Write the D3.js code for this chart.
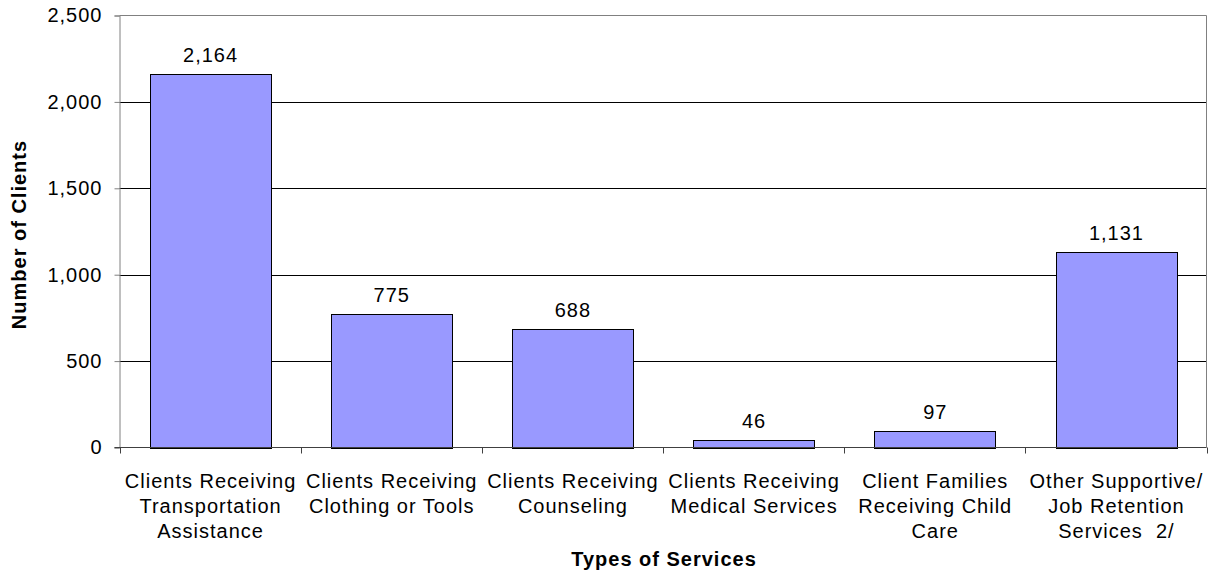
<!DOCTYPE html>
<html>
<head>
<meta charset="utf-8">
<script src="https://cdn.jsdelivr.net/npm/d3@7"></script>
<style>
  html, body { margin: 0; padding: 0; background: #fff; }
  svg { display: block; font-family: "Liberation Sans", Arial, sans-serif; }
  svg text { letter-spacing: 1px; }
</style>
</head>
<body>
<svg id="chart" width="1210" height="571"></svg>
<script>
// Service categories (each label line is a separate entry)
const categories = [
  ["Clients Receiving", "Transportation", "Assistance"],
  ["Clients Receiving", "Clothing or Tools"],
  ["Clients Receiving", "Counseling"],
  ["Clients Receiving", "Medical Services"],
  ["Client Families", "Receiving Child", "Care"],
  ["Other Supportive/", "Job Retention", "Services  2/"]
];
const clients = [2164, 775, 688, 46, 97, 1131];
const yTicks = [0, 500, 1000, 1500, 2000, 2500];

const svg = d3.select("#chart");
const plotLeft = 119.5, plotRight = 1206.5, plotTop = 15.5, plotBottom = 447.5;
const fmt = d3.format(",");

const x = d3.scaleBand()
  .domain(d3.range(categories.length))
  .range([plotLeft, plotRight])
  .paddingInner(1 / 3)
  .paddingOuter(1 / 6);

const y = d3.scaleLinear().domain([0, 2500]).range([plotBottom, plotTop]);

// Horizontal gridlines
svg.append("g")
  .selectAll("line")
  .data(yTicks.filter(t => t > 0 && t < 2500))
  .join("line")
  .attr("x1", plotLeft).attr("x2", plotRight)
  .attr("y1", d => Math.round(y(d)) + 0.5).attr("y2", d => Math.round(y(d)) + 0.5)
  .attr("stroke", "#000").attr("stroke-width", 1);

// Plot area border (top and right)
svg.append("path")
  .attr("d", `M${plotLeft},${plotTop}H${plotRight}V${plotBottom}`)
  .attr("fill", "none").attr("stroke", "#808080").attr("stroke-width", 1);

// Bars
svg.append("g")
  .selectAll("rect")
  .data(clients)
  .join("rect")
  .attr("x", (d, i) => Math.round(x(i)) + 0.5)
  .attr("width", Math.round(x.bandwidth()))
  .attr("y", d => Math.round(y(d)) + 0.5)
  .attr("height", d => Math.round(plotBottom) - Math.round(y(d)))
  .attr("fill", "#9999FF")
  .attr("stroke", "#000").attr("stroke-width", 1);

// Value labels
svg.append("g")
  .selectAll("text")
  .data(clients)
  .join("text")
  .attr("x", (d, i) => x(i) + x.bandwidth() / 2 + 0.5)
  .attr("y", d => y(d) - 12)
  .attr("text-anchor", "middle")
  .attr("font-size", 20)
  .attr("fill", "#000")
  .text(d => fmt(d));

// Y axis
const yAxis = d3.axisLeft(y).tickValues(yTicks).tickFormat(fmt).tickSize(5).tickPadding(12);
const gy = svg.append("g").attr("transform", `translate(${plotLeft},0)`).call(yAxis);
gy.select(".domain").attr("stroke", "#808080");
gy.selectAll(".tick line").attr("stroke", "#808080");
gy.selectAll(".tick text").attr("font-size", 20).attr("fill", "#000")
  .attr("font-family", "Liberation Sans, Arial, sans-serif");

// X axis with ticks at category boundaries
const boundaries = d3.range(categories.length + 1)
  .map(i => plotLeft + i * (plotRight - plotLeft) / categories.length);
const gx = svg.append("g");
gx.append("line")
  .attr("x1", plotLeft - 5).attr("x2", plotRight)
  .attr("y1", plotBottom).attr("y2", plotBottom)
  .attr("stroke", "#404040");
gx.selectAll("line.tk")
  .data(boundaries)
  .join("line").attr("class", "tk")
  .attr("x1", d => Math.round(d) + 0.5).attr("x2", d => Math.round(d) + 0.5)
  .attr("y1", plotBottom).attr("y2", plotBottom + 6)
  .attr("stroke", "#404040");

// Category labels
gx.selectAll("text.cat")
  .data(categories)
  .join("text").attr("class", "cat")
  .attr("text-anchor", "middle")
  .attr("font-size", 20)
  .attr("fill", "#000")
  .each(function(lines, i) {
    const t = d3.select(this);
    lines.forEach((ln, k) => {
      t.append("tspan")
        .attr("x", x(i) + x.bandwidth() / 2 + 0.5)
        .attr("y", 488 + k * 25)
        .attr("xml:space", "preserve")
        .text(ln);
    });
  });

// Axis titles
svg.append("text")
  .attr("x", (plotLeft + plotRight) / 2 + 1)
  .attr("y", 566)
  .attr("text-anchor", "middle")
  .attr("font-size", 20)
  .attr("font-weight", "bold")
  .text("Types of Services");

svg.append("text")
  .attr("transform", `translate(26,${(plotTop + plotBottom) / 2 + 3}) rotate(-90)`)
  .attr("text-anchor", "middle")
  .attr("font-size", 20)
  .attr("font-weight", "bold")
  .text("Number of Clients");
</script>
</body>
</html>
